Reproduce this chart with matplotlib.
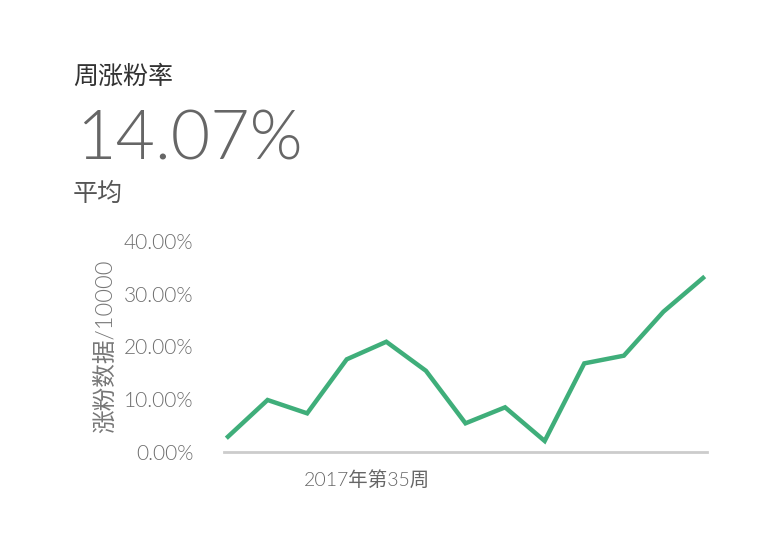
import matplotlib
matplotlib.use("Agg")
import matplotlib.pyplot as plt
from matplotlib.ticker import FixedLocator, FuncFormatter

# Data
weeks = list(range(13))
growth_rate = [2.9, 9.86, 7.33, 17.57, 20.9, 15.4, 5.44, 8.47, 2.09, 16.8, 18.26, 26.6, 33.0]
y_ticks = [0, 10, 20, 30, 40]
x_tick_positions = [3.5]
x_tick_labels = ["2017年第35周"]
title_text = "周涨粉率"
kpi_text = "14.07%"
kpi_sub = "平均"
y_label = "涨粉数据/10000"

FONTS = ["Lato", "Noto Sans CJK SC", "DejaVu Sans"]
CJK = ["Noto Sans CJK SC", "DejaVu Sans"]
plt.rcParams["font.family"] = FONTS

W, H = 776, 540
fig = plt.figure(figsize=(W / 100, H / 100), dpi=100)
fig.patch.set_facecolor("white")

ax = fig.add_axes([224 / W, 88 / H, 483 / W, (452 - 241) / H])
ax.plot(weeks, growth_rate, color="#3fae7a", linewidth=3.2, solid_joinstyle="miter")
ax.set_xlim(-0.1, 12.1)
ax.set_ylim(0, 40)

for s in ["top", "right", "left"]:
    ax.spines[s].set_visible(False)
ax.spines["bottom"].set_color("#cccccc")
ax.spines["bottom"].set_linewidth(2)

ax.yaxis.set_major_locator(FixedLocator(y_ticks))
ax.yaxis.set_major_formatter(FuncFormatter(lambda v, p: f"{v:.2f}%"))
ax.tick_params(axis="y", length=0, pad=22, labelsize=15, labelcolor="#6e6e6e")
for lab in ax.get_yticklabels():
    lab.set_family(["Lato", "DejaVu Sans"])
    lab.set_fontweight(300)

ax.set_xticks(x_tick_positions)
ax.set_xticklabels(x_tick_labels, family=["Lato", "Noto Sans CJK SC"], fontsize=14,
                   color="#666666", fontweight=300)
ax.tick_params(axis="x", length=0, pad=13)

ax.set_ylabel(y_label, fontsize=17, color="#777777", family=["Lato", "Noto Sans CJK SC"],
              fontweight=300, labelpad=6)

fig.text(73 / W, 1 - 77 / H, title_text, fontsize=18, color="#333333", family=CJK,
         va="center", ha="left")
fig.text(76 / W, 1 - 160 / H, kpi_text, fontsize=49, color="#666666", family=["Lato", "DejaVu Sans"],
         fontweight=300, va="baseline", ha="left")
fig.text(73 / W, 1 - 194 / H, kpi_sub, fontsize=18, color="#555555", family=CJK,
         va="center", ha="left")

fig.savefig("out.png", dpi=100, facecolor="white")
